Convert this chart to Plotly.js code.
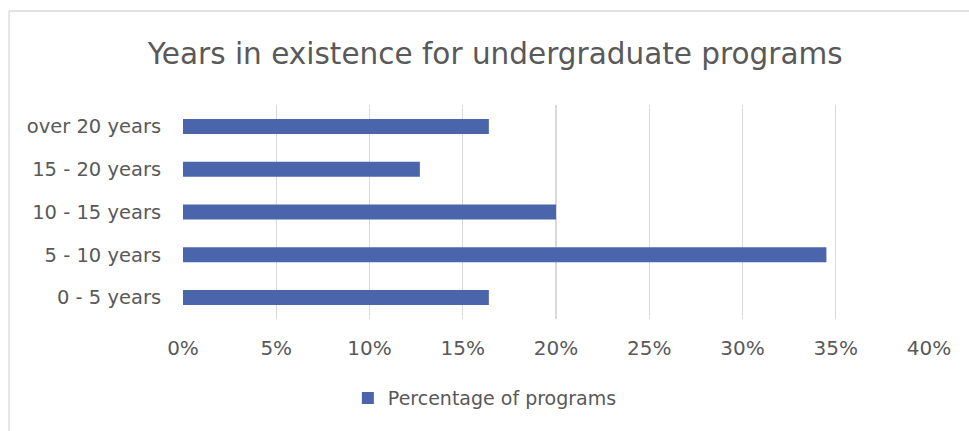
<!DOCTYPE html>
<html>
<head>
<meta charset="utf-8">
<script src="https://cdn.plot.ly/plotly-3.0.1.min.js"></script>
<style>html,body{margin:0;padding:0;background:#fff;}#chart{width:969px;height:431px;}</style>
</head>
<body>
<div id="chart"></div>
<script>
const categories = ["0 - 5 years", "5 - 10 years", "10 - 15 years", "15 - 20 years", "over 20 years"];
const percentages = [0.164, 0.345, 0.200, 0.127, 0.164];
const tickValues = [0, 0.05, 0.10, 0.15, 0.20, 0.25, 0.30, 0.35, 0.40];
const tickLabels = ["0%", "5%", "10%", "15%", "20%", "25%", "30%", "35%", "40%"];
const seriesName = "Percentage of programs";
const chartTitle = "Years in existence for undergraduate programs";

const font = "DejaVu Sans, sans-serif";
const textColor = "#595959";

Plotly.newPlot("chart", [{
  type: "bar",
  orientation: "h",
  y: categories,
  x: percentages,
  name: seriesName,
  marker: {color: "#4a65ab"},
  hoverinfo: "none"
}], {
  width: 969,
  height: 431,
  margin: {l: 183, r: 40, t: 105, b: 112},
  paper_bgcolor: "#ffffff",
  plot_bgcolor: "#ffffff",
  font: {family: font, color: textColor, size: 18},
  title: {text: chartTitle, font: {family: font, size: 29.5, color: textColor}, x: 0.511, xanchor: "center", xref: "container", y: 0.875, yanchor: "middle", yref: "container"},
  bargap: 0.65,
  showlegend: true,
  legend: {orientation: "h", x: 0.221, xanchor: "left", y: -0.37, yanchor: "middle", font: {size: 19, color: textColor}, itemwidth: 30},
  xaxis: {
    range: [0, 0.40],
    tickvals: tickValues,
    ticktext: tickLabels,
    showgrid: true,
    gridcolor: "#d9d9d9",
    gridwidth: 1.3,
    zeroline: false,
    showline: false,
    ticks: "outside",
    ticklen: 11,
    tickcolor: "rgba(0,0,0,0)",
    tickfont: {size: 20, color: textColor},
    fixedrange: true
  },
  yaxis: {
    type: "category",
    categoryorder: "array",
    categoryarray: categories,
    showgrid: false,
    zeroline: false,
    showline: false,
    ticks: "outside",
    ticklen: 17,
    tickcolor: "rgba(0,0,0,0)",
    tickfont: {size: 19.5, color: textColor},
    fixedrange: true
  },
  shapes: [
    {type: "line", xref: "paper", yref: "paper", x0: -0.2332, x1: 1.1, y0: 1.4393, y1: 1.4393, line: {color: "#d9d9d9", width: 1.3}},
    {type: "line", xref: "paper", yref: "paper", x0: -0.2332, x1: -0.2332, y0: 1.4393, y1: -0.6, line: {color: "#d9d9d9", width: 1.3}}
  ]
}, {displayModeBar: false, staticPlot: true});
</script>
</body>
</html>
